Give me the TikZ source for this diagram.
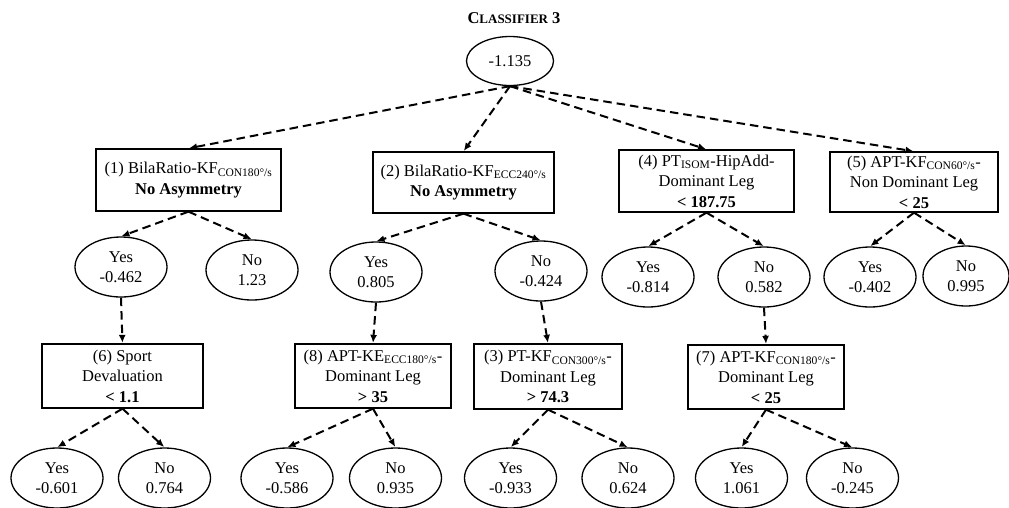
\documentclass[tikz,border=0pt]{standalone}
\usepackage{fontspec}
\setmainfont{Liberation Serif}
\usetikzlibrary{shapes.geometric,arrows.meta}
\tikzset{
  txt/.style={font=\fontsize{16.5}{20.5}\selectfont, align=center, inner sep=0pt},
  box/.style={txt, draw, line width=1.3pt},
  ell/.style={txt, draw, ellipse, line width=1.3pt, minimum width=92pt, minimum height=60pt},
  conn/.style={line width=2pt, dash pattern=on 8.5pt off 5pt, -{Latex[length=8pt,width=7pt]}, shorten >=0.5pt}
}
\newcommand{\sbs}[1]{\textsubscript{#1}}
\begin{document}
\begin{tikzpicture}[x=1pt,y=-1pt]
\useasboundingbox (0,0) rectangle (1009,507);
% title
\node[inner sep=0pt] (title) at (514,18) {\bfseries\fontsize{16.5}{18}\selectfont C{\fontsize{13}{14}\selectfont LASSIFIER} 3};
% root
\node[ell, minimum width=87pt, minimum height=49pt] (root) at (510,61) {-1.135};
% level 1 boxes
\node[box, minimum width=185pt, minimum height=62pt] (b1) at (188.5,180) {(1) BilaRatio-KF\sbs{CON180°/s}\\\textbf{No Asymmetry}};
\node[box, minimum width=181pt, minimum height=61pt] (b2) at (463.5,182.5) {(2) BilaRatio-KF\sbs{ECC240°/s}\\\textbf{No Asymmetry}};
\node[box, minimum width=175pt, minimum height=62pt] (b4) at (706.5,181) {(4) PT\sbs{ISOM}-HipAdd-\\Dominant Leg\\\textbf{< 187.75}};
\node[box, minimum width=168pt, minimum height=60pt] (b5) at (914,182) {(5) APT-KF\sbs{CON60°/s}-\\Non Dominant Leg\\\textbf{< 25}};
% level 2 ellipses
\node[ell] (y1) at (121,267) {Yes\\-0.462};
\node[ell] (n1) at (252,270) {No\\1.23};
\node[ell] (y2) at (376,272) {Yes\\0.805};
\node[ell] (n2) at (541,271) {No\\-0.424};
\node[ell] (y4) at (648,277) {Yes\\-0.814};
\node[ell] (n4) at (764,277) {No\\0.582};
\node[ell] (y5) at (870,277) {Yes\\-0.402};
\node[ell, minimum width=86pt] (n5) at (966,276) {No\\0.995};
% level 3 boxes
\node[box, minimum width=161pt, minimum height=64pt] (b6) at (122.5,376) {(6) Sport\\Devaluation\\\textbf{< 1.1}};
\node[box, minimum width=156pt, minimum height=64pt] (b8) at (373,376) {(8) APT-KE\sbs{ECC180°/s}-\\Dominant Leg\\\textbf{> 35}};
\node[box, minimum width=148pt, minimum height=65pt] (b3) at (548,376.5) {(3) PT-KF\sbs{CON300°/s}-\\Dominant Leg\\\textbf{> 74.3}};
\node[box, minimum width=156pt, minimum height=64pt] (b7) at (766,377) {(7) APT-KF\sbs{CON180°/s}-\\Dominant Leg\\\textbf{< 25}};
% level 4 ellipses
\node[ell] (y6) at (57,478) {Yes\\-0.601};
\node[ell] (n6) at (164.5,478) {No\\0.764};
\node[ell] (y8) at (287,478) {Yes\\-0.586};
\node[ell] (n8) at (395.5,478) {No\\0.935};
\node[ell] (y3) at (510.5,478) {Yes\\-0.933};
\node[ell] (n3) at (628,478) {No\\0.624};
\node[ell] (y7) at (741.5,478) {Yes\\1.061};
\node[ell] (n7) at (852.5,478) {No\\-0.245};
% connectors
\foreach \t in {b1,b2,b4,b5} \draw[conn] (root.south) -- (\t.north);
\draw[conn] (b1.south) -- (y1.north);
\draw[conn] (b1.south) -- (n1.north);
\draw[conn] (b2.south) -- (y2.north);
\draw[conn] (b2.south) -- (n2.north);
\draw[conn] (b4.south) -- (y4.north);
\draw[conn] (b4.south) -- (n4.north);
\draw[conn] (b5.south) -- (y5.north);
\draw[conn] (b5.south) -- (n5.north);
\draw[conn] (y1.south) -- (b6.north);
\draw[conn] (y2.south) -- (b8.north);
\draw[conn] (n2.south) -- (b3.north);
\draw[conn] (n4.south) -- (b7.north);
\draw[conn] (b6.south) -- (y6.north);
\draw[conn] (b6.south) -- (n6.north);
\draw[conn] (b8.south) -- (y8.north);
\draw[conn] (b8.south) -- (n8.north);
\draw[conn] (b3.south) -- (y3.north);
\draw[conn] (b3.south) -- (n3.north);
\draw[conn] (b7.south) -- (y7.north);
\draw[conn] (b7.south) -- (n7.north);
\end{tikzpicture}
\end{document}
